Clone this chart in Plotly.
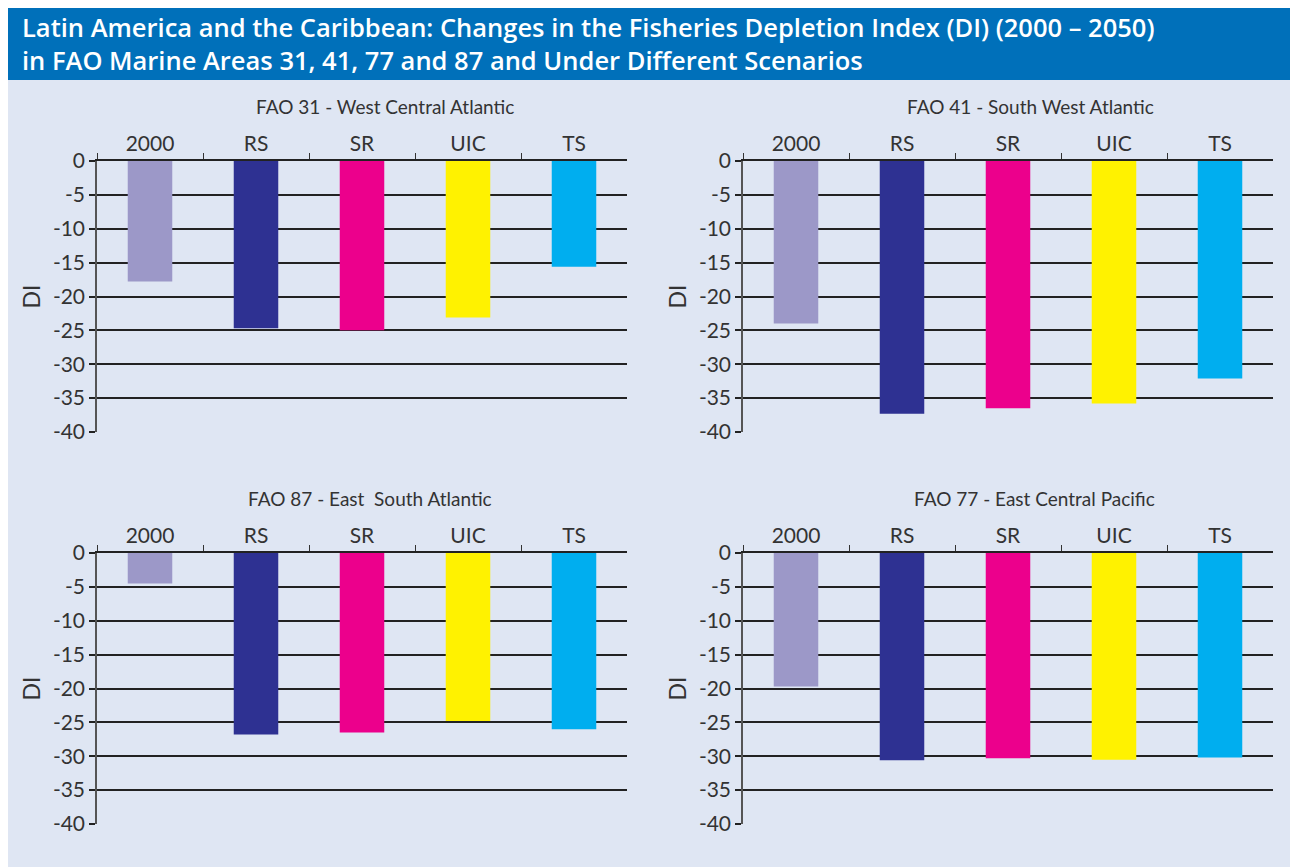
import plotly.graph_objects as go

categories = ["2000", "RS", "SR", "UIC", "TS"]
bar_colors = ["#9C98C8", "#2E3192", "#EC008C", "#FFF200", "#00AEEF"]

panel_titles = ["FAO 31 - West Central Atlantic", "FAO 41 - South West Atlantic",
                "FAO 87 - East  South Atlantic", "FAO 77 - East Central Pacific"]
fao31 = [-17.8, -24.7, -25.0, -23.1, -15.6]
fao41 = [-24.0, -37.3, -36.5, -35.8, -32.1]
fao87 = [-4.5, -26.8, -26.5, -24.8, -26.0]
fao77 = [-19.7, -30.6, -30.3, -30.5, -30.2]
panel_values = [fao31, fao41, fao87, fao77]

y_ticks = [0, -5, -10, -15, -20, -25, -30, -35, -40]

# page body has an 8px margin; figure coordinates are reference pixels minus 8
OFF = 8
W, H = 1298 - OFF, 867 - OFF
FONT = "Lato, 'Open Sans', sans-serif"

def px(x):
    return (x - OFF) / W

def py(y):
    return 1 - (y - OFF) / H

# reference pixel boxes (left, right, top, bottom)
boxes = [(97, 627, 161, 432), (743, 1273, 161, 432),
         (97, 627, 553, 824), (743, 1273, 553, 824)]
title_pos = [(385, 106), (1030, 106), (370, 498), (1034, 498)]

fig = go.Figure()
layout = dict(
    width=W, height=H,
    margin=dict(l=0, r=0, t=0, b=0, autoexpand=False),
    paper_bgcolor="#DFE6F3",
    plot_bgcolor="rgba(0,0,0,0)",
    showlegend=False,
    font=dict(family=FONT, color="#333333"),
)

annotations = []
for i, (vals, ttl, box, tp) in enumerate(zip(panel_values, panel_titles, boxes, title_pos)):
    n = "" if i == 0 else str(i + 1)
    xa, ya = "x" + n, "y" + n
    fig.add_trace(go.Bar(x=categories, y=vals, marker=dict(color=bar_colors, line=dict(width=0)),
                         xaxis=xa, yaxis=ya, width=0.42))
    l, r, t, b = box
    layout["xaxis" + n] = dict(
        domain=[px(l), px(r)], anchor=ya, side="top", automargin=False,
        type="category", range=[-0.5, 4.5],
        showline=True, linecolor="#222222", linewidth=1.5,
        ticks="outside", tickson="boundaries", ticklen=6, tickcolor="#333333", tickwidth=1,
        showgrid=False, tickfont=dict(size=21, color="#333333"), fixedrange=True,
    )
    layout["yaxis" + n] = dict(
        domain=[py(b), py(t)], anchor=xa, automargin=False,
        range=[-40, 0], tickvals=y_ticks, ticktext=[str(v) for v in y_ticks],
        showline=True, linecolor="#555555", linewidth=1.5,
        ticks="outside", ticklen=6, tickcolor="#222222", tickwidth=1.5,
        showgrid=True, gridcolor="#222222", gridwidth=1.5, zeroline=False,
        tickfont=dict(size=21, color="#333333"),
        title=dict(text="DI", font=dict(size=23, color="#333333"), standoff=6),
        fixedrange=True,
    )
    annotations.append(dict(
        text=ttl, xref="paper", yref="paper", x=px(tp[0]), y=py(tp[1]),
        xanchor="center", yanchor="middle", showarrow=False,
        font=dict(size=19, color="#333333", family=FONT),
    ))

annotations.append(dict(
    text="Latin America and the Caribbean: Changes in the Fisheries Depletion Index (DI) (2000 – 2050)<br>"
         "in FAO Marine Areas 31, 41, 77 and 87 and Under Different Scenarios",
    xref="paper", yref="paper", x=px(20), y=py(43), xanchor="left", yanchor="middle",
    align="left", showarrow=False,
    font=dict(size=25.5, color="white", family="'Open Sans', Lato, sans-serif", weight=600),
))
layout["annotations"] = annotations
layout["shapes"] = [
    dict(type="rect", xref="paper", yref="paper", x0=0, x1=1, y0=py(80), y1=1,
         fillcolor="#0070BA", line=dict(width=0), layer="below"),
]
fig.update_layout(**layout)
fig.write_html("out.html")
